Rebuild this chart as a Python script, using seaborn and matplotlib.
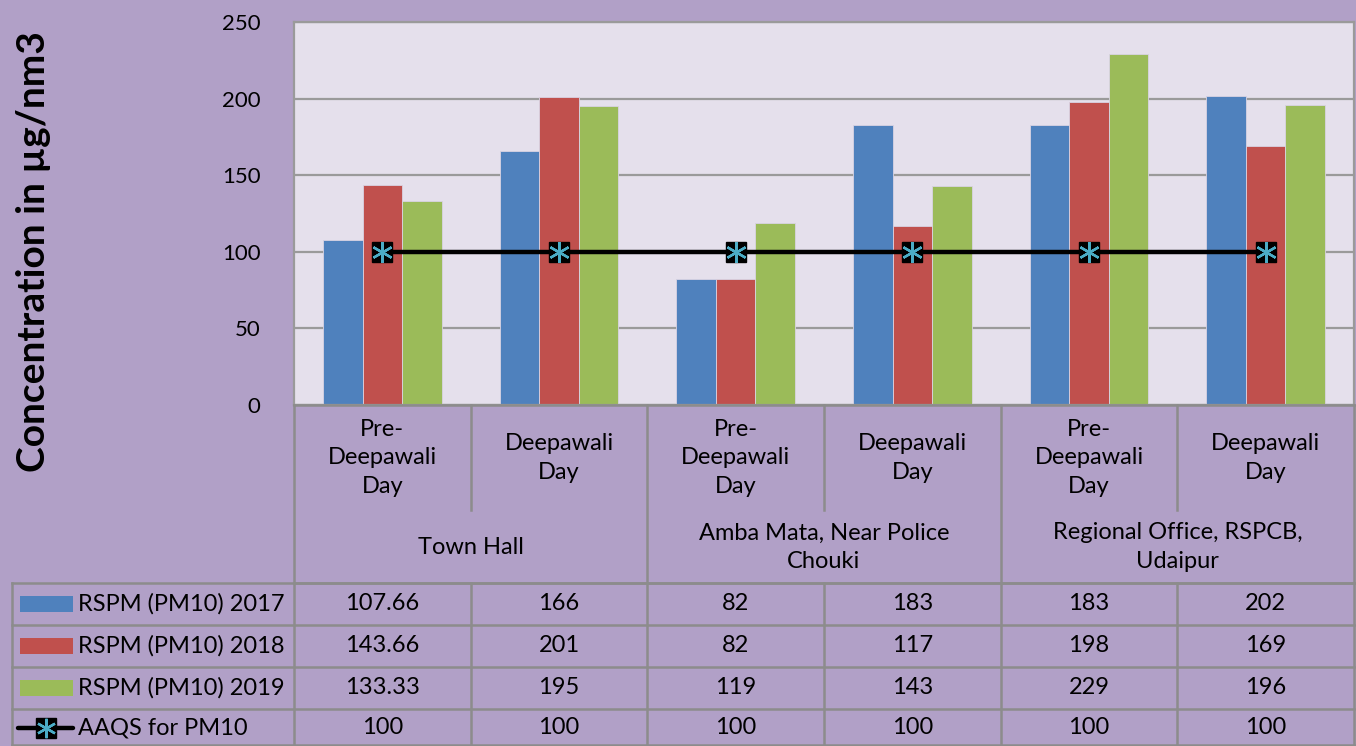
import matplotlib
matplotlib.use("Agg")
import matplotlib.pyplot as plt
from matplotlib.lines import Line2D
from matplotlib.patches import Rectangle
import seaborn as sns
import pandas as pd

# ---------------- data ----------------
groups = ["Town Hall", "Amba Mata, Near Police\nChouki", "Regional Office, RSPCB,\nUdaipur"]
days = ["Pre-\nDeepawali\nDay", "Deepawali\nDay"]
series = ["RSPM (PM10) 2017", "RSPM (PM10) 2018", "RSPM (PM10) 2019"]
rspm_2017 = [107.66, 166, 82, 183, 183, 202]
rspm_2018 = [143.66, 201, 82, 117, 198, 169]
rspm_2019 = [133.33, 195, 119, 143, 229, 196]
aaqs = [100, 100, 100, 100, 100, 100]
line_label = "AAQS for PM10"
yticks = [0, 50, 100, 150, 200, 250]
ylabel = "Concentration in µg/nm3"

colors = ["#4F81BD", "#C0504D", "#9BBB59"]
bg = "#B1A0C7"
plot_bg = "#E5E0EC"
grid_c = "#9A9A9A"
FONT = "Lato"
FAM = [FONT, "DejaVu Sans"]

W, H = 1356, 746
fig = plt.figure(figsize=(W / 100, H / 100), dpi=100, facecolor=bg)
plt.rcParams["font.family"] = FAM

def fx(x):
    return x / W

def fy(y):
    return 1 - y / H

L, R, T, B = 294, 1354, 22, 405
ax = fig.add_axes([fx(L), fy(B), fx(R - L), (B - T) / H])
ax.set_facecolor(plot_bg)

cats = [f"{g}|{d}" for g in groups for d in days]
rows = []
for name, vals in zip(series, [rspm_2017, rspm_2018, rspm_2019]):
    for c, v in zip(cats, vals):
        rows.append({"cat": c, "series": name, "value": v})
df = pd.DataFrame(rows)

sns.barplot(data=df, x="cat", y="value", hue="series", order=cats, hue_order=series,
            palette=colors, width=0.67, ax=ax, saturation=1, legend=False,
            edgecolor="#D9D3E3", linewidth=0.6, zorder=2)

xs = list(range(len(cats)))
ax.plot(xs, aaqs, color="black", lw=3.2, zorder=3, solid_capstyle="butt")
ax.plot(xs, aaqs, ls="none", marker="s", ms=15, mfc="black", mec="black", zorder=4)
ax.plot(xs, aaqs, ls="none", marker=(6, 2, 0), ms=15, mec="#4BACC6", mew=1.7, zorder=5)

ax.set_xlim(-0.5, len(cats) - 0.5)
ax.set_ylim(0, 250)
ax.set_yticks(yticks)
ax.set_yticklabels([str(t) for t in yticks], fontsize=16, family=FAM)
ax.tick_params(axis="y", length=0, pad=24)
ax.set_xticks([])
ax.set_xlabel("")
ax.set_ylabel("")
ax.yaxis.grid(True, color=grid_c, lw=1.6, zorder=0)
ax.set_axisbelow(True)
for s in ax.spines.values():
    s.set_color(grid_c)
    s.set_linewidth(1.6)

fig.text(fx(34), fy(252), ylabel, rotation=90, ha="center", va="center",
         fontsize=28, fontweight="bold", family=FAM)

# ---------------- table ----------------
cw = (R - L) / len(cats)
centers = [L + cw * (i + 0.5) for i in range(len(cats))]
line_kw = dict(color="#8C8C8C", lw=1.8, transform=fig.transFigure, zorder=1)

def hline(x0, x1, y):
    fig.add_artist(Line2D([fx(x0), fx(x1)], [fy(y), fy(y)], **line_kw))

def vline(x, y0, y1):
    fig.add_artist(Line2D([fx(x), fx(x)], [fy(y0), fy(y1)], **line_kw))

row_y = [583, 625, 667, 709, 746]
hline(L, R, B)
hline(L, R, 583)
for y in row_y[:-1]:
    hline(12, R, y)
hline(12, R, 745)
vline(12, 583, 746)
for i in range(len(cats) + 1):
    x = L + cw * i
    if i % 2 == 0:
        vline(x, B, 746)
    else:
        vline(x, B, 510)
        vline(x, 583, 746)

tfs = 17
for i, c in enumerate(cats):
    d = days[i % 2]
    fig.text(fx(centers[i]), fy(458), d, ha="center", va="center", fontsize=tfs,
             linespacing=1.42, family=FAM)
for gi, g in enumerate(groups):
    cx = (centers[2 * gi] + centers[2 * gi + 1]) / 2
    fig.text(fx(cx), fy(547), g, ha="center", va="center", fontsize=tfs,
             linespacing=1.42, family=FAM)

all_series = [rspm_2017, rspm_2018, rspm_2019, aaqs]
labels = series + [line_label]
for r, (lab, vals) in enumerate(zip(labels, all_series)):
    yc = (row_y[r] + row_y[r + 1]) / 2
    if r < 3:
        fig.add_artist(Rectangle((fx(20), fy(yc + 8)), fx(53), 16 / H,
                                 facecolor=colors[r], edgecolor="none",
                                 transform=fig.transFigure))
    else:
        fig.add_artist(Line2D([fx(18), fx(73)], [fy(yc), fy(yc)], color="black", lw=3.2,
                              transform=fig.transFigure, solid_capstyle="round"))
        fig.add_artist(Line2D([fx(45.5)], [fy(yc)], ls="none", marker="s", ms=14,
                              mfc="black", mec="black", transform=fig.transFigure))
        fig.add_artist(Line2D([fx(45.5)], [fy(yc)], ls="none", marker=(6, 2, 0), ms=14,
                              mec="#4BACC6", mew=1.7, transform=fig.transFigure))
    fig.text(fx(78), fy(yc), lab, ha="left", va="center", fontsize=tfs, family=FAM)
    for i, v in enumerate(vals):
        fig.text(fx(centers[i]), fy(yc), f"{v:g}", ha="center", va="center",
                 fontsize=tfs, family=FAM)

fig.savefig("out.png", dpi=100, facecolor=bg)
